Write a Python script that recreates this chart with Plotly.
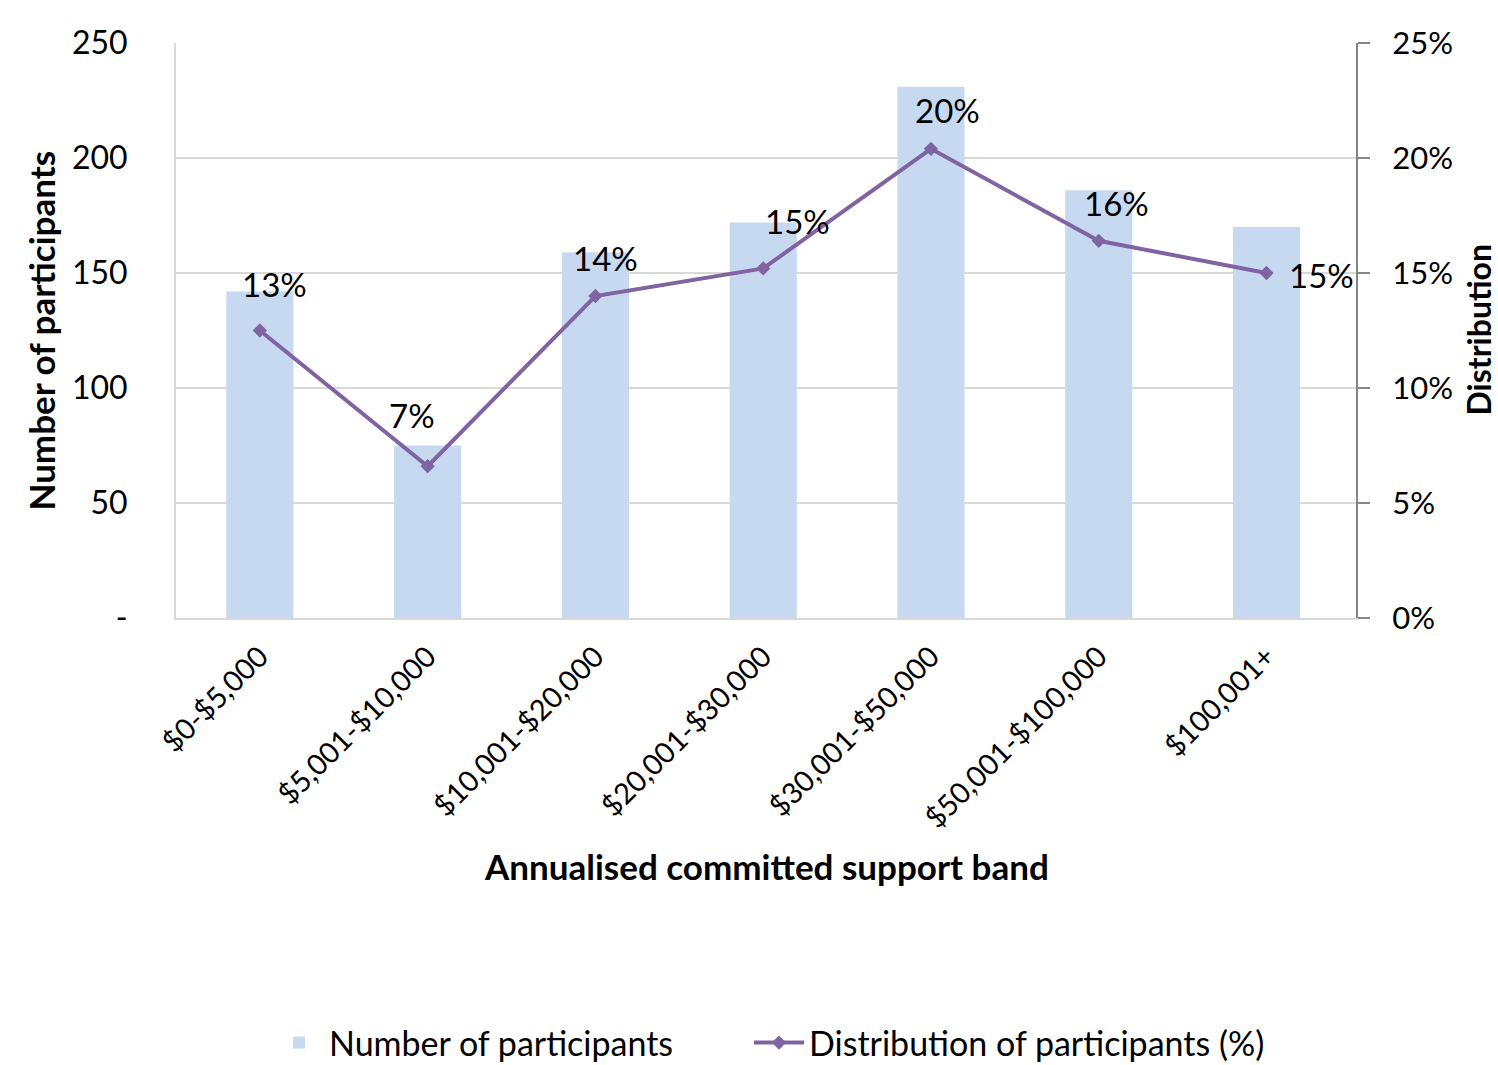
import plotly.graph_objects as go

categories = ["$0-$5,000", "$5,001-$10,000", "$10,001-$20,000", "$20,001-$30,000",
              "$30,001-$50,000", "$50,001-$100,000", "$100,001+"]
participants = [142, 75, 159, 172, 231, 186, 170]
distribution = [0.125, 0.066, 0.140, 0.152, 0.204, 0.164, 0.150]
dist_labels = ["13%", "7%", "14%", "15%", "20%", "16%", "15%"]
left_ticks = [0, 50, 100, 150, 200, 250]
left_tick_text = ["-", "50", "100", "150", "200", "250"]

# label offsets (pixels) relative to each line point
label_dx = [15, -16, 10, 34, 17, 18, 55]
label_dy = [47, 51, 38, 47, 39, 38, -2]

FONT = "Lato"
BAR_COLOR = "#C6D9F1"
LINE_COLOR = "#8064A2"

fig = go.Figure()
fig.add_trace(go.Bar(x=categories, y=participants, name="Number of participants",
                     marker=dict(color=BAR_COLOR, line=dict(width=0)), yaxis="y",
                     legend="legend"))
fig.add_trace(go.Scatter(x=categories, y=distribution, name="Distribution of participants (%)",
                         mode="lines+markers", yaxis="y2", legend="legend2",
                         line=dict(color=LINE_COLOR, width=4),
                         marker=dict(symbol="diamond", size=11, color=LINE_COLOR)))

annotations = []
for c, v, t, dx, dy in zip(categories, distribution, dist_labels, label_dx, label_dy):
    annotations.append(dict(x=c, y=v, xref="x", yref="y2", text=t, showarrow=False,
                            xshift=dx, yshift=dy, font=dict(family=FONT, size=33, color="#000000")))

annotations.append(dict(text="<b>Annualised committed support band</b>", xref="paper", yref="paper",
                        x=(766 - 176) / 1180, y=(618 - 866) / 575, xanchor="center", yanchor="middle",
                        showarrow=False, font=dict(family=FONT, size=35, color="#000000")))
annotations.append(dict(text="<b>Number of participants</b>", xref="paper", yref="paper",
                        x=(40 - 176) / 1180, y=0.5, xanchor="center", yanchor="middle",
                        textangle=-90, showarrow=False, font=dict(family=FONT, size=35, color="#000000")))
annotations.append(dict(text="<b>Distribution</b>", xref="paper", yref="paper",
                        x=(1478 - 176) / 1180, y=0.5, xanchor="center", yanchor="middle",
                        textangle=-90, showarrow=False, font=dict(family=FONT, size=32, color="#000000")))

legend_common = dict(orientation="h", xref="container", yref="container",
                     y=(1065 - 1043) / 1065, xanchor="left", yanchor="middle",
                     font=dict(family=FONT, size=34), itemwidth=50, bgcolor="rgba(0,0,0,0)")

fig.update_layout(
    width=1498, height=1065, autosize=False,
    margin=dict(l=176, r=142, t=43, b=447),
    paper_bgcolor="white", plot_bgcolor="white",
    font=dict(family=FONT, size=31, color="#000000"),
    bargap=0.6,
    showlegend=True,
    legend=dict(x=269 / 1498, **legend_common),
    legend2=dict(x=749 / 1498, **legend_common),
    xaxis=dict(type="category", tickangle=-45, showline=True, linecolor="#D9D9D9", linewidth=2,
               showgrid=False, ticks="", ticklabelstandoff=8,
               tickfont=dict(family=FONT, size=29), automargin=False),
    yaxis=dict(range=[0, 250], tickvals=left_ticks, ticktext=left_tick_text,
               showgrid=True, gridcolor="#D9D9D9", gridwidth=2, showline=True, linecolor="#D9D9D9",
               linewidth=2, ticks="", ticklabelstandoff=40, zeroline=False,
               tickfont=dict(family=FONT, size=32), automargin=False),
    yaxis2=dict(range=[0, 0.25], dtick=0.05, tickformat=".0%", overlaying="y", side="right",
                showgrid=False, showline=True, linecolor="#868686", linewidth=2,
                ticks="outside", ticklen=12, tickcolor="#868686", tickwidth=2,
                ticklabelstandoff=16, zeroline=False,
                tickfont=dict(family=FONT, size=31), automargin=False),
    annotations=annotations,
)

fig.write_html("out.html")
